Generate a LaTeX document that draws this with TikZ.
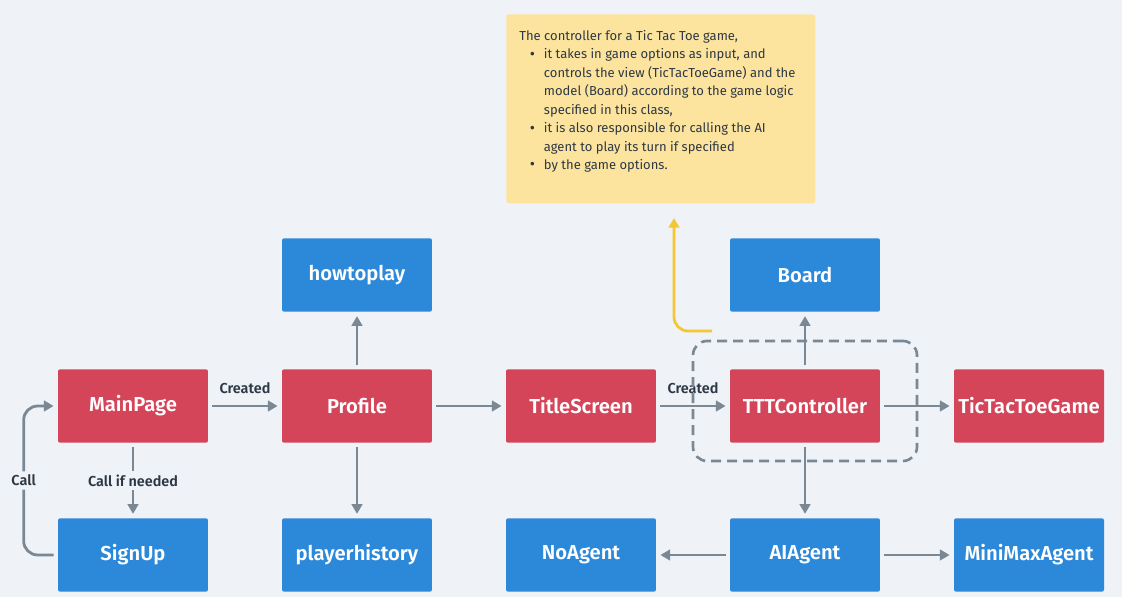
\documentclass[tikz,border=0pt]{standalone}
\usepackage{fontspec}
\setmainfont{Fira Sans}[BoldFont={Fira Sans SemiBold}]
\usetikzlibrary{arrows.meta}
\definecolor{bg}{HTML}{EFF3F7}
\definecolor{boxred}{HTML}{D4455A}
\definecolor{boxblue}{HTML}{2C89DA}
\definecolor{wire}{HTML}{7A8896}
\definecolor{ink}{HTML}{2E3845}
\definecolor{notefill}{HTML}{FCE49E}
\definecolor{noteline}{HTML}{F5C733}
\newcommand{\notebullet}{\makebox[14pt][l]{\hspace*{6pt}\raisebox{-0.2pt}{\fontsize{9}{9}\selectfont\textbullet}}}
\newcommand{\noteindent}{\hspace*{14pt}}
\begin{document}
\begin{tikzpicture}[x=0.02cm,y=-0.02cm,>={Triangle[length=5.5pt,width=6pt]},
 cls/.style={rounded corners=1.2pt,minimum width=3cm,minimum height=1.47cm,text=white,font=\bfseries\fontsize{11.5}{13}\selectfont,inner sep=0pt},
 view/.style={cls,fill=boxred},
 model/.style={cls,fill=boxblue},
 conn/.style={->,wire,line width=1.6pt,shorten <=2.3pt,shorten >=2.3pt},
 lab/.style={font=\bfseries\fontsize{8.2}{10}\selectfont,text=ink,fill=bg,inner sep=2pt},
 group/.style={draw=wire,line width=1.5pt,dash pattern=on 5.7pt off 3.4pt,rounded corners=8pt,minimum width=4.48cm,minimum height=2.4cm},
 note/.style={fill=notefill,rounded corners=1pt,minimum width=6.18cm,minimum height=3.78cm},
 notetext/.style={align=left,text=ink,font=\fontsize{7.4}{10.5}\selectfont,inner sep=0pt},
 hint/.style={->,noteline,line width=1.6pt,rounded corners=8pt}]
\fill[bg] (0,0) rectangle (1122,597);
% note on the controller
\node[note,anchor=north west] (note) at (506,14) {};
\node[notetext,anchor=north west] (notetxt) at (519,30) {The controller for a Tic Tac Toe game,\\
\notebullet it takes in game options as input, and\\
\noteindent controls the view (TicTacToeGame) and the\\
\noteindent model (Board) according to the game logic\\
\noteindent specified in this class,\\
\notebullet it is also responsible for calling the AI\\
\noteindent agent to play its turn if specified\\
\notebullet by the game options.};
\coordinate (notetip) at (674,218);
\coordinate (ctrlhook) at (712,331);
\draw[hint] (ctrlhook) -| (notetip);
% classes
\node[view] (mainpage) at (133,406) {MainPage};
\node[view] (profile) at (357,406) {Profile};
\node[view] (titlescreen) at (581,406) {TitleScreen};
\node[view] (controller) at (805,406) {TTTController};
\node[view] (tttgame) at (1029,406) {TicTacToeGame};
\node[model] (howtoplay) at (357,275) {howtoplay};
\node[model] (board) at (805,275) {Board};
\node[model] (signup) at (133,555) {SignUp};
\node[model] (history) at (357,555) {playerhistory};
\node[model] (noagent) at (581,555) {NoAgent};
\node[model] (aiagent) at (805,555) {AIAgent};
\node[model] (minimax) at (1029,555) {MiniMaxAgent};
% links
\draw[conn] (mainpage) -- node[lab,above=4pt] {Created} (profile);
\draw[conn] (profile) -- (titlescreen);
\draw[conn] (titlescreen) -- node[lab,above=4pt] {Created} (controller);
\draw[conn] (controller) -- (tttgame);
\draw[conn] (profile) -- (howtoplay);
\draw[conn] (profile) -- (history);
\draw[conn] (controller) -- (board);
\draw[conn] (controller) -- (aiagent);
\draw[conn] (aiagent) -- (noagent);
\draw[conn] (aiagent) -- (minimax);
\draw[conn] (mainpage) -- node[lab] {Call if needed} (signup);
\draw[conn,rounded corners=8pt] (signup.west) -- ++(-34,0) |- node[lab,pos=0.25] {Call} (mainpage.west);
\node[group] (ctrlgroup) at (805,401) {};
\end{tikzpicture}
\end{document}
